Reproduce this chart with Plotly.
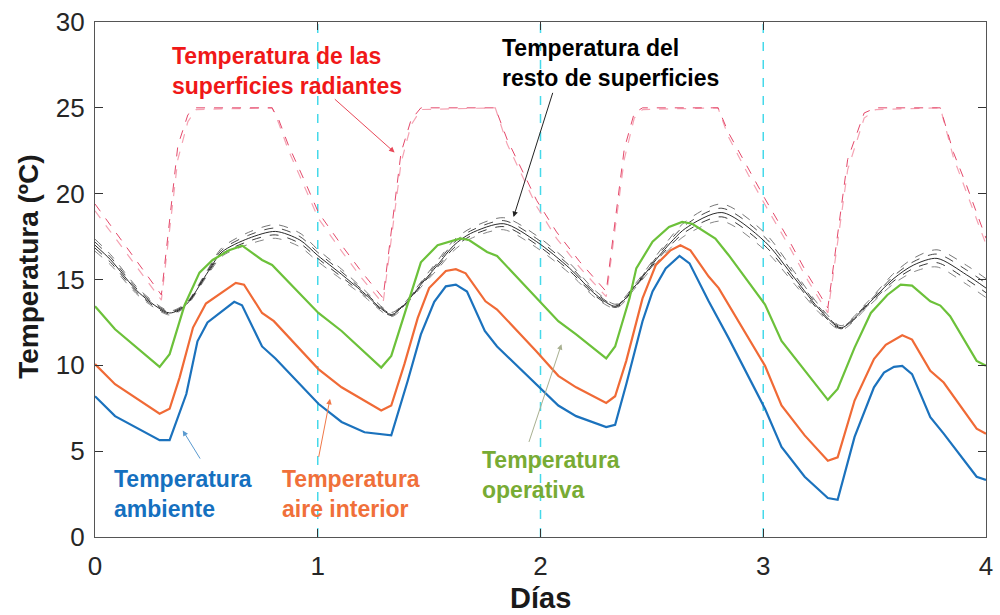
import plotly.graph_objects as go

# ---------------- data ----------------
day_ticks = [0, 1, 2, 3, 4]
temp_ticks = [0, 5, 10, 15, 20, 25, 30]
day_marks = [1, 2, 3]

x_amb = [0, 0.09, 0.29, 0.335, 0.41, 0.46, 0.505, 0.55, 0.625, 0.66, 0.75, 0.81, 1.003, 1.107, 1.21, 1.33,
         1.404, 1.463, 1.523, 1.575, 1.62, 1.67, 1.75, 1.805, 1.98, 2.08, 2.16, 2.295, 2.335, 2.385, 2.458,
         2.503, 2.562, 2.624, 2.669, 2.755, 2.844, 3.008, 3.082, 3.186, 3.29, 3.334, 3.41, 3.497, 3.542,
         3.587, 3.624, 3.668, 3.75, 3.81, 3.958, 4.0]
t_amb = [8.2, 7.04, 5.64, 5.64, 8.33, 11.4, 12.5, 12.96, 13.7, 13.5, 11.1, 10.4, 7.76, 6.7, 6.1, 5.92,
         9.1, 11.8, 13.7, 14.6, 14.7, 14.3, 12.0, 11.1, 8.9, 7.66, 7.04, 6.4, 6.54, 8.9, 12.57,
         14.3, 15.65, 16.37, 15.94, 13.73, 11.6, 7.47, 5.25, 3.51, 2.27, 2.17, 5.83, 8.72, 9.58,
         9.91, 9.97, 9.49, 6.98, 6.02, 3.51, 3.32]

x_air = [0, 0.09, 0.29, 0.335, 0.38, 0.44, 0.498, 0.543, 0.632, 0.669, 0.75, 0.803, 1.003, 1.107, 1.285,
         1.33, 1.389, 1.449, 1.5, 1.575, 1.62, 1.664, 1.753, 1.805, 1.98, 2.08, 2.16, 2.295, 2.335, 2.385,
         2.458, 2.518, 2.584, 2.628, 2.673, 2.755, 2.8, 3.008, 3.082, 3.186, 3.29, 3.334, 3.41, 3.497,
         3.55, 3.624, 3.668, 3.75, 3.81, 3.958, 4.0]
t_air = [10.07, 8.9, 7.18, 7.47, 9.3, 12.2, 13.6, 14.0, 14.8, 14.7, 13.05, 12.57, 9.78, 8.72, 7.37,
         7.66, 10.07, 12.76, 14.5, 15.5, 15.6, 15.36, 13.73, 13.25, 10.84, 9.39, 8.72, 7.81, 8.2, 10.26,
         13.9, 15.85, 16.7, 17.0, 16.7, 15.17, 14.5, 9.97, 7.66, 5.92, 4.44, 4.64, 7.95, 10.36,
         11.2, 11.75, 11.5, 9.68, 9.0, 6.31, 6.02]

x_op = [0, 0.09, 0.29, 0.335, 0.402, 0.469, 0.528, 0.602, 0.661, 0.75, 0.795, 1.003, 1.107, 1.285, 1.33,
        1.389, 1.463, 1.538, 1.641, 1.679, 1.76, 1.805, 1.983, 2.08, 2.16, 2.295, 2.335, 2.4, 2.43, 2.503,
        2.577, 2.636, 2.681, 2.785, 2.844, 3.008, 3.082, 3.186, 3.29, 3.334, 3.41, 3.483, 3.557, 3.617,
        3.668, 3.75, 3.795, 3.839, 3.958, 4.0]
t_op = [13.44, 12.1, 9.91, 10.65, 13.5, 15.4, 16.14, 16.7, 16.97, 16.14, 15.85, 13.05, 12.0, 9.87, 10.55,
        12.96, 16.0, 17.0, 17.39, 17.3, 16.6, 16.37, 13.92, 12.57, 11.8, 10.4, 11.1, 13.92, 15.65, 17.2,
        18.06, 18.35, 18.25, 17.39, 16.43, 13.54, 11.42, 9.68, 7.99, 8.62, 11.03, 13.05, 14.1, 14.7,
        14.64, 13.73, 13.48, 12.86, 10.26, 9.97]

x_rad = [0, 0.1, 0.2, 0.298, 0.372, 0.417, 0.454, 0.795, 0.825, 0.869, 0.944, 1.003, 1.107, 1.196, 1.293,
         1.374, 1.419, 1.463, 1.797, 1.85, 1.983, 2.072, 2.176, 2.295, 2.376, 2.421, 2.458, 2.797, 2.844,
         2.933, 3.008, 3.111, 3.2, 3.29, 3.379, 3.453, 3.505, 3.795, 3.854, 3.913, 4.0]
t_rad_a = [19.4, 17.6, 15.85, 14.1, 22.8, 24.6, 25.0, 25.0, 24.3, 22.8, 20.66, 18.9, 17.0, 15.46, 13.92,
           22.4, 24.3, 25.0, 25.0, 23.17, 19.6, 17.77, 16.04, 14.3, 22.6, 24.7, 25.0, 25.0, 23.55,
           21.43, 19.7, 17.39, 15.27, 13.34, 22.0, 24.7, 25.0, 25.0, 22.4, 20.47, 17.4]
t_rad_b = [19.0, 17.25, 15.5, 13.8, 22.0, 24.2, 24.9, 25.0, 24.1, 22.5, 20.3, 18.55, 16.65, 15.1, 13.6,
           21.8, 24.0, 24.9, 25.0, 22.9, 19.25, 17.4, 15.7, 14.0, 22.0, 24.4, 24.9, 25.0, 23.3,
           21.1, 19.35, 17.05, 14.95, 13.05, 21.4, 24.4, 24.9, 25.0, 22.1, 20.1, 17.05]

x_rest = [0, 0.07, 0.2, 0.335, 0.41, 0.5, 0.57, 0.69, 0.81, 0.92, 1.0, 1.107, 1.2, 1.33, 1.389, 1.463,
          1.538, 1.612, 1.686, 1.835, 1.983, 2.131, 2.25, 2.339, 2.43, 2.547, 2.65, 2.814, 3.008, 3.141,
          3.26, 3.35, 3.468, 3.587, 3.676, 3.78, 3.913, 4.0]
t_rest_1 = [17.35, 16.45, 14.4, 13.17, 13.65, 15.45, 16.85, 17.75, 18.2, 17.7, 16.75, 15.6, 14.5, 13.08,
            13.64, 14.85, 16.1, 17.3, 17.98, 18.6, 17.55, 15.95, 14.3, 13.56, 14.82, 16.85, 18.37, 19.4,
            17.7, 15.42, 13.35, 12.31, 13.69, 15.37, 16.25, 16.73, 15.82, 15.05]
t_rest_2 = [17.18, 16.3, 14.3, 13.11, 13.6, 15.38, 16.73, 17.58, 18.0, 17.5, 16.58, 15.45, 14.4, 13.02,
            13.59, 14.78, 15.98, 17.15, 17.83, 18.43, 17.38, 15.8, 14.2, 13.5, 14.76, 16.73, 18.17, 19.15,
            17.45, 15.25, 13.25, 12.25, 13.62, 15.22, 16.05, 16.48, 15.55, 14.78]
t_rest_3 = [17.0, 16.15, 14.2, 13.05, 13.55, 15.3, 16.6, 17.4, 17.8, 17.3, 16.4, 15.3, 14.3, 12.96,
            13.54, 14.7, 15.85, 17.0, 17.68, 18.25, 17.2, 15.65, 14.1, 13.44, 14.7, 16.6, 17.97, 18.9,
            17.2, 15.07, 13.15, 12.19, 13.54, 15.07, 15.85, 16.23, 15.27, 14.5]
t_rest_4 = [16.83, 16.0, 14.1, 12.99, 13.5, 15.23, 16.48, 17.23, 17.6, 17.1, 16.23, 15.15, 14.2, 12.9,
            13.49, 14.63, 15.73, 16.85, 17.53, 18.08, 17.03, 15.5, 14.0, 13.38, 14.64, 16.48, 17.77, 18.65,
            16.95, 14.9, 13.05, 12.13, 13.47, 14.92, 15.65, 15.98, 15.0, 14.23]
t_rest_5 = [16.65, 15.85, 14.0, 12.93, 13.45, 15.15, 16.35, 17.05, 17.4, 16.9, 16.05, 15.0, 14.1, 12.84,
            13.44, 14.55, 15.6, 16.7, 17.38, 17.9, 16.85, 15.35, 13.9, 13.32, 14.58, 16.35, 17.57, 18.4,
            16.7, 14.72, 12.95, 12.07, 13.39, 14.77, 15.45, 15.73, 14.72, 13.95]

# ---------------- figure ----------------
FONT = "Liberation Sans, Arial, Helvetica, sans-serif"
fig = go.Figure()

for d in day_marks:
    fig.add_trace(go.Scatter(x=[d, d], y=[temp_ticks[0], temp_ticks[-1]], mode="lines",
                             line=dict(color="#45d9ea", width=1.5, dash="dash"),
                             hoverinfo="skip", showlegend=False))

# radiant surfaces
fig.add_trace(go.Scatter(x=x_rad, y=t_rad_b, mode="lines",
                         line=dict(color="#f5a3b3", width=1.2, dash="dash"), showlegend=False))
fig.add_trace(go.Scatter(x=x_rad, y=t_rad_a, mode="lines",
                         line=dict(color="#e4486a", width=1.0, dash="dash"), showlegend=False))

# rest of surfaces
rest_styles = [("#666666", "dash"), ("#333333", "dash"), ("#111111", "solid"),
               ("#222222", "dash"), ("#777777", "dash")]
for ys, (c, dsh) in zip([t_rest_1, t_rest_2, t_rest_3, t_rest_4, t_rest_5], rest_styles):
    fig.add_trace(go.Scatter(x=x_rest, y=ys, mode="lines", line_shape="spline",
                             line=dict(color=c, width=0.9, dash=dsh, smoothing=0.8),
                             showlegend=False))

fig.add_trace(go.Scatter(x=x_op, y=t_op, mode="lines", line=dict(color="#6cc13a", width=2.2),
                         showlegend=False))
fig.add_trace(go.Scatter(x=x_air, y=t_air, mode="lines", line=dict(color="#f06a36", width=2.2),
                         showlegend=False))
fig.add_trace(go.Scatter(x=x_amb, y=t_amb, mode="lines", line=dict(color="#1b72bd", width=2.2),
                         showlegend=False))

ann_font = 23
annotations = [
    dict(x=0.335, y=27.15, text="Temperatura de las<br>superficies radiantes", color="#f01818"),
    dict(x=1.82, y=27.6, text="Temperatura del<br>resto de superficies", color="#000000"),
    dict(x=0.075, y=2.5, text="Temperatura<br>ambiente", color="#1570bf"),
    dict(x=0.832, y=2.5, text="Temperatura<br>aire interior", color="#f0703a"),
    dict(x=1.73, y=3.64, text="Temperatura<br>operativa", color="#78ab34"),
]
for a in annotations:
    fig.add_annotation(x=a["x"], y=a["y"], xref="x", yref="y", text="<b>" + a["text"] + "</b>",
                       showarrow=False, xanchor="left", yanchor="middle", align="left",
                       font=dict(family=FONT, size=ann_font, color=a["color"]))

arrows = [
    dict(x=1.345, y=22.4, ax=1.07, ay=25.58, color="#e84858"),
    dict(x=1.879, y=18.64, ax=2.057, ay=25.96, color="#222222"),
    dict(x=0.394, y=6.21, ax=0.476, ay=4.48, color="#5a9ad0"),
    dict(x=1.055, y=8.05, ax=1.003, ay=4.58, color="#f07848"),
    dict(x=2.094, y=11.23, ax=1.946, ay=5.45, color="#a8b090"),
]
for a in arrows:
    fig.add_annotation(x=a["x"], y=a["y"], ax=a["ax"], ay=a["ay"], xref="x", yref="y",
                       axref="x", ayref="y", text="", showarrow=True, arrowhead=2,
                       arrowsize=1.1, arrowwidth=1, arrowcolor=a["color"])

# axis titles
fig.add_annotation(x=-0.075, y=0.525, xref="paper", yref="paper", text="<b>Temperatura (ºC)</b>",
                   textangle=-90, showarrow=False, xanchor="center", yanchor="middle",
                   font=dict(family=FONT, size=28, color="#1a1a1a"))
fig.add_annotation(x=0.5, y=-0.119, xref="paper", yref="paper", text="<b>Días</b>",
                   showarrow=False, xanchor="center", yanchor="middle",
                   font=dict(family=FONT, size=29, color="#1a1a1a"))

axis_common = dict(showgrid=False, zeroline=False, showline=True, linecolor="#555555", linewidth=1.2,
                   mirror="ticks", ticks="inside", ticklen=8, tickwidth=1, tickcolor="#333333",
                   tickfont=dict(family=FONT, size=26, color="#262626"))
fig.update_xaxes(range=[day_ticks[0], day_ticks[-1]], tickvals=day_ticks, ticklabelstandoff=6,
                 **axis_common)
fig.update_yaxes(range=[temp_ticks[0], temp_ticks[-1]], tickvals=temp_ticks, ticklabelstandoff=4,
                 **axis_common)

fig.update_layout(width=1000, height=615, margin=dict(l=95, r=7, t=19, b=78),
                  paper_bgcolor="white", plot_bgcolor="white", font=dict(family=FONT))

fig.write_html("out.html")
